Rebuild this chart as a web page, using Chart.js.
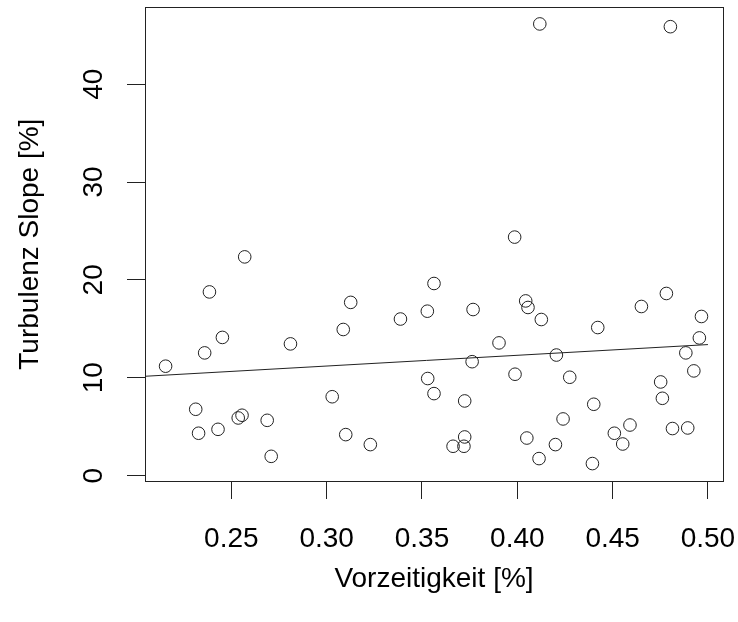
<!DOCTYPE html>
<html>
<head>
<meta charset="utf-8">
<script src="https://cdn.jsdelivr.net/npm/chart.js@4"></script>
<style>
  html, body { margin: 0; padding: 0; background: #fff; }
  #wrap { width: 738px; height: 622px; }
</style>
</head>
<body>
<div id="wrap"><canvas id="plot" width="738" height="622"></canvas></div>
<script>
// Vorzeitigkeit (x) and Turbulenz Slope (y)
const vorzeitigkeit = [
  0.2155, 0.2313, 0.2328, 0.2360, 0.2385, 0.2430, 0.2453, 0.2536, 0.2556, 0.2570,
  0.2688, 0.2709, 0.2810, 0.3029, 0.3087, 0.3100, 0.3126, 0.3229, 0.3387, 0.3528,
  0.3530, 0.3563, 0.3563, 0.3663, 0.3720, 0.3724, 0.3724, 0.3763, 0.3768, 0.3904,
  0.3986, 0.3988, 0.4044, 0.4056, 0.4050, 0.4114, 0.4118, 0.4126, 0.4200, 0.4205,
  0.4240, 0.4275, 0.4394, 0.4401, 0.4422, 0.4509, 0.4553, 0.4591, 0.4651, 0.4752,
  0.4761, 0.4782, 0.4803, 0.4814, 0.4884, 0.4894, 0.4926, 0.4955, 0.4966
];
const turbulenzSlope = [
  11.18, 6.78, 4.33, 12.54, 18.77, 4.73, 14.12, 5.89, 6.17, 22.35,
  5.65, 1.97, 13.46, 8.06, 14.93, 4.19, 17.70, 3.17, 16.00, 16.80,
  9.92, 19.63, 8.38, 3.00, 3.00, 3.95, 7.63, 11.64, 16.97, 13.56,
  24.37, 10.36, 17.85, 17.18, 3.84, 1.74, 46.15, 15.95, 3.17, 12.32,
  5.79, 10.05, 1.23, 7.29, 15.13, 4.33, 3.23, 5.17, 17.28, 9.57,
  7.90, 18.61, 45.87, 4.81, 12.54, 4.87, 10.70, 14.07, 16.26
];

// regression line end points
const fitX = [0.2047, 0.5000];
const fitY = [10.15, 13.39];

const xTicks = [0.25, 0.30, 0.35, 0.40, 0.45, 0.50];
const xTickLabels = ['0.25', '0.30', '0.35', '0.40', '0.45', '0.50'];
const yTicks = [0, 10, 20, 30, 40];
const yTickLabels = ['0', '10', '20', '30', '40'];

const ink = '#222';
const fontFam = '"Liberation Sans", Arial, sans-serif';

const points = vorzeitigkeit.map((v, i) => ({ x: v, y: turbulenzSlope[i] }));
const fitLine = fitX.map((v, i) => ({ x: v, y: fitY[i] }));

// R style box around the plot region
const boxPlugin = {
  id: 'box',
  afterDraw(chart) {
    const { ctx, chartArea: { left, top, right, bottom } } = chart;
    ctx.save();
    ctx.strokeStyle = ink;
    ctx.lineWidth = 1;
    ctx.strokeRect(Math.round(left) + 0.5, Math.round(top) + 0.5,
      Math.round(right - left), Math.round(bottom - top));
    ctx.restore();
  }
};

const bg = {
  id: 'bg',
  beforeDraw(chart) {
    const ctx = chart.ctx;
    ctx.save();
    ctx.fillStyle = '#fff';
    ctx.fillRect(0, 0, chart.width, chart.height);
    ctx.restore();
  }
};

new Chart(document.getElementById('plot'), {
  type: 'scatter',
  data: {
    datasets: [
      {
        label: 'Messwerte',
        data: points,
        pointStyle: 'circle',
        pointRadius: 6.3,
        pointHoverRadius: 6.3,
        borderColor: ink,
        borderWidth: 1,
        backgroundColor: 'rgba(0,0,0,0)'
      },
      {
        type: 'line',
        label: 'Regression',
        data: fitLine,
        borderColor: ink,
        borderWidth: 1,
        pointRadius: 0,
        fill: false
      }
    ]
  },
  options: {
    responsive: false,
    animation: false,
    events: [],
    layout: { padding: { left: 0, top: 7, right: 15, bottom: 0 } },
    plugins: { legend: { display: false }, tooltip: { enabled: false } },
    scales: {
      x: {
        type: 'linear',
        min: 0.2047,
        max: 0.5079,
        afterBuildTicks(scale) { scale.ticks = xTicks.map(v => ({ value: v })); },
        afterFit(scale) {
          scale.height = 141;
          scale.paddingLeft = 0;
          scale.paddingRight = 0;
        },
        border: { display: false },
        grid: { drawOnChartArea: false, drawTicks: true, tickLength: 18, tickColor: ink, tickWidth: 1 },
        ticks: {
          color: '#000',
          font: { family: fontFam, size: 28 },
          padding: 23,
          maxRotation: 0,
          autoSkip: false,
          callback: (v, i) => xTickLabels[i]
        },
        title: {
          display: true,
          text: 'Vorzeitigkeit [%]',
          color: '#000',
          font: { family: fontFam, size: 28 },
          padding: { top: 0, bottom: 26 }
        }
      },
      y: {
        type: 'linear',
        min: -0.55,
        max: 47.85,
        afterBuildTicks(scale) { scale.ticks = yTicks.map(v => ({ value: v })); },
        afterFit(scale) {
          scale.width = 145;
          scale.paddingTop = 0;
          scale.paddingBottom = 0;
        },
        border: { display: false },
        grid: { drawOnChartArea: false, drawTicks: true, tickLength: 18, tickColor: ink, tickWidth: 1 },
        ticks: {
          color: '#000',
          font: { family: fontFam, size: 28 },
          padding: 17,
          minRotation: 90,
          maxRotation: 90,
          crossAlign: 'center',
          autoSkip: false,
          callback: (v, i) => yTickLabels[i]
        },
        title: {
          display: true,
          text: 'Turbulenz Slope [%]',
          color: '#000',
          font: { family: fontFam, size: 28 },
          padding: { top: 13, bottom: 0 }
        }
      }
    }
  },
  plugins: [bg, boxPlugin]
});
</script>
</body>
</html>
